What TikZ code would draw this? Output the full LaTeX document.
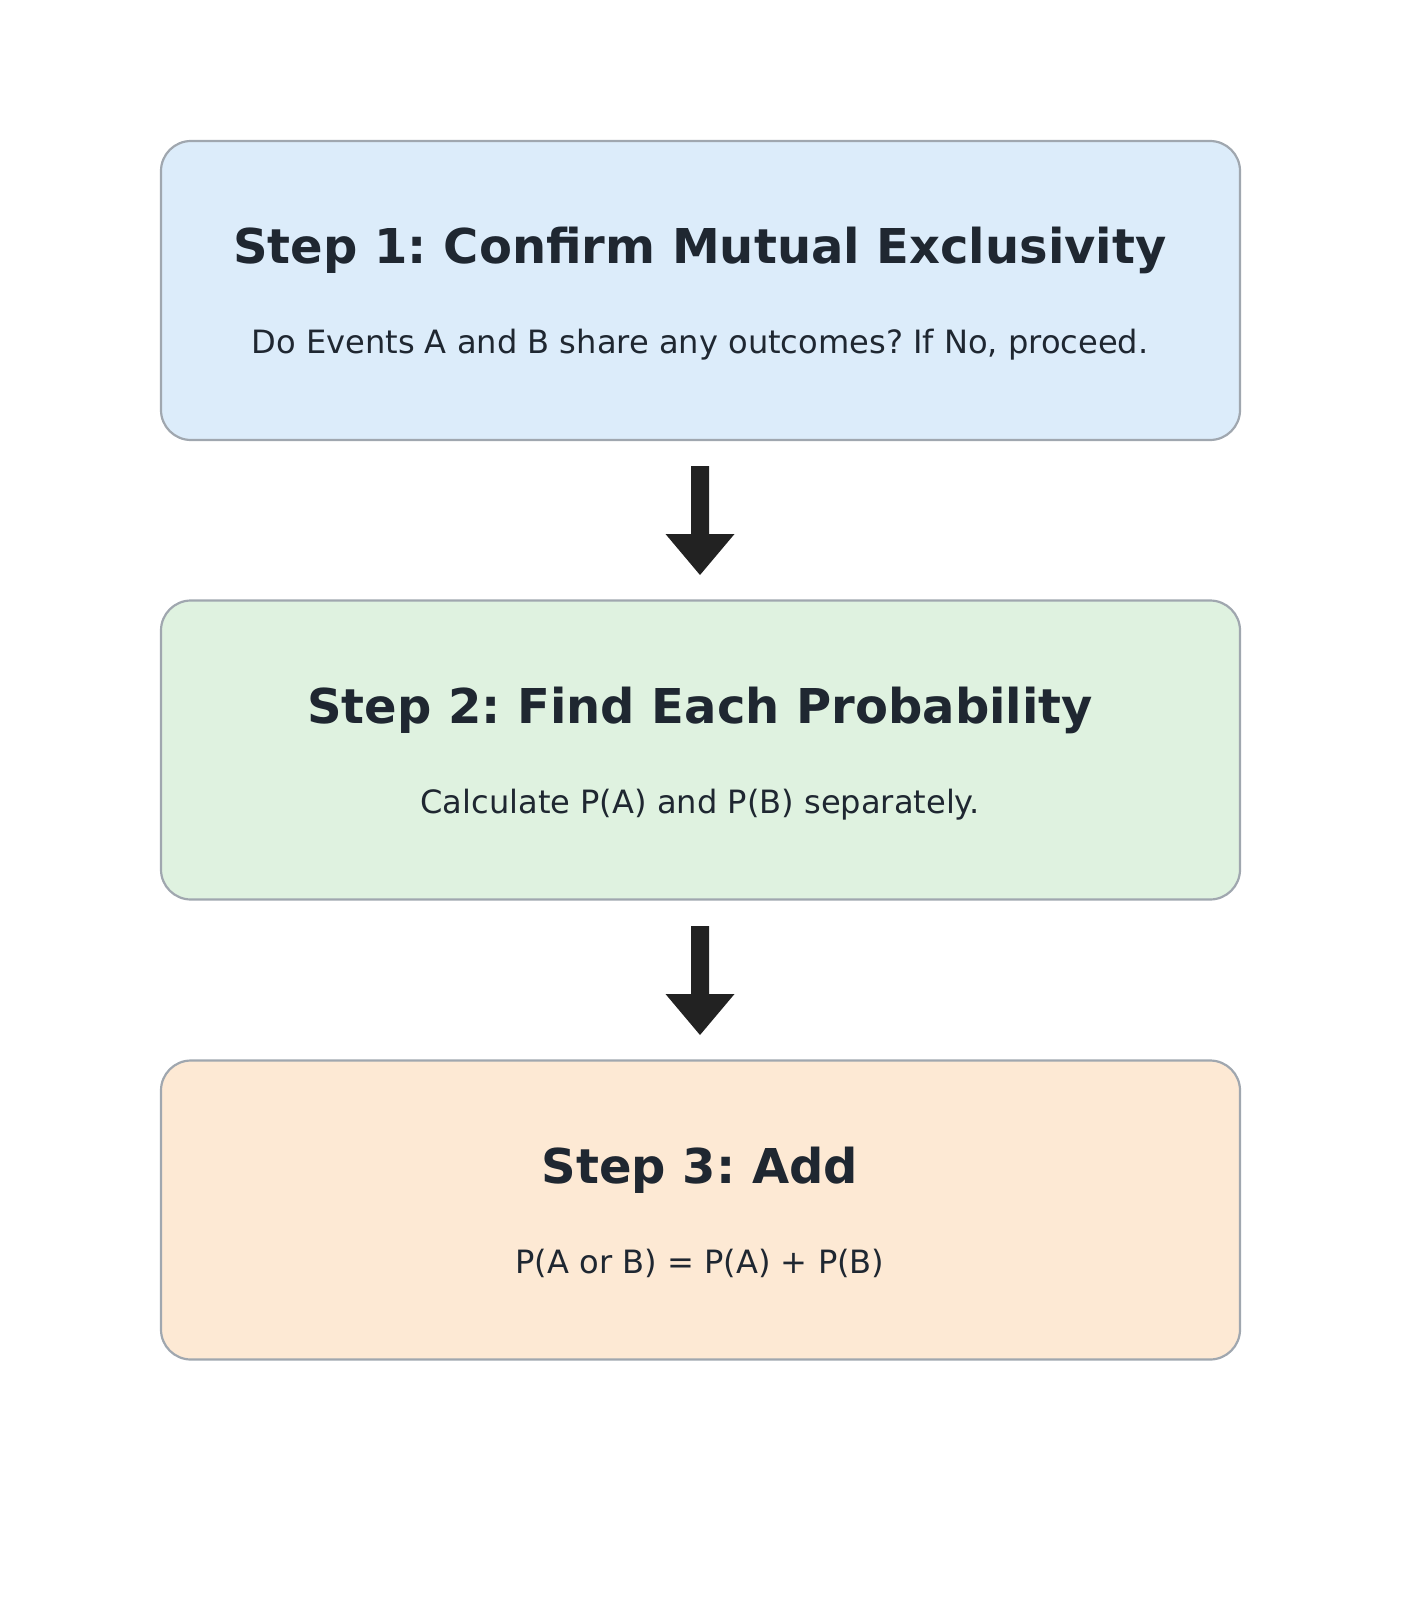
\documentclass[tikz,border=0pt]{standalone}
\usepackage{fontspec}
\setmainfont{DejaVu Sans}
\frenchspacing
\definecolor{bordc}{HTML}{A0A7AF}
\definecolor{txtc}{HTML}{1F2731}
\definecolor{arrc}{HTML}{222222}
\definecolor{bluef}{HTML}{DCECFA}
\definecolor{greenf}{HTML}{DFF2E0}
\definecolor{orangef}{HTML}{FDE9D4}
\tikzset{
  stepbox/.style={draw=bordc, line width=2.2pt, rounded corners=30pt, minimum width=1079pt, minimum height=299pt, inner sep=0pt},
  titletxt/.style={text=txtc, font=\fontsize{48}{56}\selectfont\bfseries, inner sep=0pt, anchor=base},
  subtxt/.style={text=txtc, font=\fontsize{32.1}{38}\selectfont, inner sep=0pt, anchor=base},
  bigarrow/.style={fill=arrc, draw=none}
}
\begin{document}
\begin{tikzpicture}[x=1pt,y=-1pt]
\useasboundingbox (0,0) rectangle (1400,1600);
\node[stepbox, fill=bluef] (b1) at (700.5,290.5) {};
\node[stepbox, fill=greenf] (b2) at (700.5,750) {};
\node[stepbox, fill=orangef] (b3) at (700.5,1210) {};
\node[titletxt] (t1) at (700,263) {Step 1: Confirm Mutual Exclusivity};
\node[subtxt] (s1) at (700,353) {Do Events A and B share any outcomes? If No, proceed.};
\node[titletxt] (t2) at (700,723) {Step 2: Find Each Probability};
\node[subtxt] (s2) at (700,813) {Calculate P(A) and P(B) separately.};
\node[titletxt] (t3) at (700,1183) {Step 3: Add};
\node[subtxt] (s3) at (700,1273) {P(A or B) = P(A) + P(B)};
\coordinate (a1) at (700,466);
\coordinate (a2) at (700,926);
\fill[bigarrow, shift={(a1)}] (-9,0) -- (9,0) -- (9,68) -- (34.5,68) -- (0,109) -- (-34.5,68) -- (-9,68) -- cycle;
\fill[bigarrow, shift={(a2)}] (-9,0) -- (9,0) -- (9,68) -- (34.5,68) -- (0,109) -- (-34.5,68) -- (-9,68) -- cycle;
\end{tikzpicture}
\end{document}
